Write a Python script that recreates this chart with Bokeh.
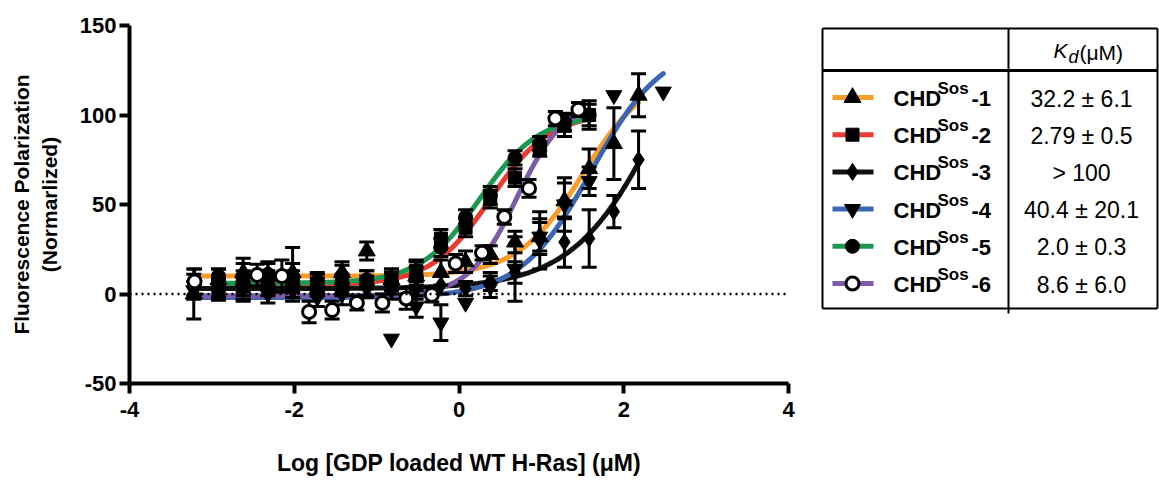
import numpy as np
from bokeh.plotting import figure
from bokeh.layouts import row
from bokeh.models import Range1d, Span, FixedTicker, CustomJSTickFormatter
from bokeh.embed import file_html
from bokeh.resources import INLINE
from bokeh.core.properties import value

# ---------------- data ----------------
series_names = ["CHD", "CHD", "CHD", "CHD", "CHD", "CHD"]
series_nums = ["-1", "-2", "-3", "-4", "-5", "-6"]
kd_labels = ["32.2 \u00b1 6.1", "2.79 \u00b1 0.5", "> 100", "40.4 \u00b1 20.1", "2.0 \u00b1 0.3", "8.6 \u00b1 6.0"]
colors = ["#F89C2A", "#EC3A30", "#111111", "#3C66B3", "#1C9A52", "#7D5BA6"]
markers = ["triangle", "square", "diamond", "inverted_triangle", "circle", "circle"]

x1 = [-3.22, -2.92, -2.62, -2.32, -2.02, -1.72, -1.42, -1.12, -0.82, -0.52, -0.22, 0.08, 0.38, 0.68, 0.98, 1.28, 1.58, 1.88, 2.18]
y1 = [0, 8, 12, 10, 12, 6, 12, 24, 8, 10, 12, 18, 22, 29, 32, 52, 70, 84, 111]
e1 = [14, 6, 5, 8, 14, 5, 6, 5, 6, 8, 7, 6, 5, 6, 10, 10, 11, 20, 12]

x2 = [-2.92, -2.62, -2.32, -2.02, -1.72, -1.42, -1.12, -0.82, -0.52, -0.22, 0.08, 0.38, 0.68, 0.98, 1.28, 1.58]
y2 = [0.5, 8, 8, 7, 4, 5, 6, 8, 13, 31, 37, 53, 65, 81, 94, 100]
e2 = [4, 12, 5, 6, 5, 6, 7, 6, 6, 5, 5, 5, 5, 4, 6, 8]

x3 = [-3.22, -2.92, -2.62, -2.32, -2.02, -1.72, -1.42, -1.12, -0.82, -0.52, -0.22, 0.08, 0.38, 0.68, 0.98, 1.28, 1.58, 1.88, 2.18]
y3 = [5, 3, 6, 4, 2, 3, 5, 4, 2, 3, 5, 3, 7, 12, 30, 29, 31, 46, 75]
e3 = [6, 5, 7, 5, 6, 4, 5, 6, 5, 6, 5, 4, 5, 6, 16, 14, 16, 9, 16]

x4 = [-3.22, -2.92, -2.62, -2.32, -2.02, -1.72, -1.42, -1.12, -0.82, -0.52, -0.22, 0.08, 0.38, 0.68, 0.98, 1.28, 1.58, 1.88, 2.48]
y4 = [2, 1, 3, 0, 2, -2, 0, 3, -25, -7, -16, -5, 4, 14, 32, 50, 63, 111, 113]
e4 = [5, 4, 6, 5, 4, 5, 6, 5, 0, 6, 10, 0, 6, 18, 8, 15, 8, 0, 0]

x5 = [-2.92, -2.62, -2.32, -2.02, -1.72, -1.42, -1.12, -0.82, -0.52, -0.22, 0.08, 0.38, 0.68, 0.98, 1.28, 1.58]
y5 = [10, 6, 11, 9, 7, 10, 8, 6, 10, 26, 43, 55, 76, 84, 96, 100]
e5 = [4, 5, 6, 8, 5, 6, 5, 6, 5, 5, 4, 5, 4, 4, 5, 6]

x6 = [-3.21, -2.45, -2.15, -1.82, -1.54, -1.24, -0.93, -0.64, -0.33, -0.04, 0.28, 0.55, 0.85, 1.17, 1.45]
y6 = [7, 10.6, 10, -10, -9, -5, -5, -2.5, -0.5, 17, 23, 43, 59, 98, 103]
e6 = [7, 6, 9, 6, 5, 4, 5, 6, 4, 5, 4, 4, 5, 4, 4]

# fitted dose-response parameters (bottom, top, logEC50, hill)
fit_bottom = [10, 5, 3, -2, 6, -1]
fit_top = [125, 101, 200, 140, 100, 108]
fit_logec = [1.51, 0.38, 2.5, 1.61, 0.25, 0.70]
fit_hill = [1.09, 1.2, 0.8, 1.0, 1.2, 1.5]

xs = [x1, x2, x3, x4, x5, x6]
ys = [y1, y2, y3, y4, y5, y6]
es = [e1, e2, e3, e4, e5, e6]

x_ticks = [-4, -2, 0, 2, 4]
y_ticks = [-50, 0, 50, 100, 150]

FONT = "Liberation Sans"

# ---------------- main plot ----------------
p = figure(frame_width=659, frame_height=358, x_range=Range1d(-4, 4), y_range=Range1d(-50, 150),
           output_backend="svg", toolbar_location=None,
           min_border_left=129, min_border_right=30, min_border_top=25, min_border_bottom=95)
p.outline_line_color = None
p.grid.visible = False
p.background_fill_color = "white"

p.add_layout(Span(location=0, dimension="width", line_color="black", line_width=2.5,
                  line_dash="2 4"))

# fitted curves
for i in range(6):
    cx = np.linspace(min(xs[i]), max(xs[i]), 200)
    cy = fit_bottom[i] + (fit_top[i] - fit_bottom[i]) / (1 + 10 ** ((fit_logec[i] - cx) * fit_hill[i]))
    p.line(cx, cy, line_color=colors[i], line_width=5, line_cap="round")

# error bars
for i in range(6):
    x = np.array(xs[i]); y = np.array(ys[i]); e = np.array(es[i])
    m = e > 0
    p.segment(x0=x[m], y0=(y - e)[m], x1=x[m], y1=(y + e)[m], line_color="black", line_width=3)
    p.scatter(x[m], (y + e)[m], marker="dash", size=15, line_color="black", line_width=3)
    p.scatter(x[m], (y - e)[m], marker="dash", size=15, line_color="black", line_width=3)

# markers
sizes = [17, 13, 17, 16, 14, 13]
for i in range(6):
    if i == 5:
        p.scatter(xs[i], ys[i], marker="circle", size=sizes[i], fill_color="white",
                  line_color="black", line_width=3)
    else:
        p.scatter(xs[i], ys[i], marker=markers[i], size=sizes[i], fill_color="black",
                  line_color="black", line_width=1)

fmt = CustomJSTickFormatter(code="return String(tick);")
for ax in (p.xaxis[0], p.yaxis[0]):
    ax.axis_line_width = 4
    ax.axis_line_color = "black"
    ax.major_tick_line_width = 4
    ax.major_tick_line_color = "black"
    ax.major_tick_out = 10
    ax.major_tick_in = 0
    ax.minor_tick_line_color = None
    ax.major_label_text_font = FONT
    ax.major_label_text_font_style = "bold"
    ax.major_label_text_font_size = "22px"
    ax.major_label_text_color = "black"
    ax.axis_label_text_font = FONT
    ax.axis_label_text_font_style = "bold"
    ax.axis_label_text_color = "black"
    ax.formatter = fmt

p.xaxis.ticker = FixedTicker(ticks=x_ticks)
p.yaxis.ticker = FixedTicker(ticks=y_ticks)
p.xaxis.major_label_standoff = 8
p.yaxis.major_label_standoff = 3
p.xaxis.axis_label = "Log [GDP loaded WT H-Ras] (\u03bcM)"
p.yaxis.axis_label = "Fluorescence Polarization\n(Normarlized)"
p.xaxis.axis_label_text_font_size = "23px"
p.yaxis.axis_label_text_font_size = "21px"
p.xaxis.axis_label_standoff = 30
p.yaxis.axis_label_standoff = 16

# ---------------- legend table ----------------
t = figure(frame_width=341, frame_height=478, x_range=Range1d(0, 341), y_range=Range1d(478, 0),
           output_backend="svg", toolbar_location=None, min_border=0,
           x_axis_type=None, y_axis_type=None)
t.outline_line_color = None
t.grid.visible = False

# borders
t.segment(x0=[4, 4, 4, 339], y0=[3, 283, 3, 3], x1=[339, 339, 4, 339], y1=[3, 283, 283, 283],
          line_color="black", line_width=2)
t.segment(x0=[4], y0=[45], x1=[339], y1=[45], line_color="black", line_width=3)
t.segment(x0=[190], y0=[3], x1=[190], y1=[288], line_color="black", line_width=2)

# header
t.text(x=[235], y=[25], text=["K"], text_font=value(FONT), text_font_style="italic",
       text_font_size="21px", text_baseline="middle", text_color="black")
t.text(x=[250], y=[31], text=["d"], text_font=value(FONT), text_font_style="italic",
       text_font_size="18px", text_baseline="middle", text_color="black")
t.text(x=[261], y=[27], text=["(\u03bcM)"], text_font=value(FONT),
       text_font_size="21px", text_baseline="middle", text_color="black")

for i in range(6):
    yr = 72 + i * 37.2
    t.segment(x0=[14], y0=[yr], x1=[55], y1=[yr], line_color=colors[i], line_width=5)
    if i == 5:
        t.scatter([34], [yr], marker="circle", size=13, fill_color="white", line_color="black", line_width=3)
    else:
        t.scatter([34], [yr], marker=markers[i], size=sizes[i], fill_color="black", line_color="black")
    t.text(x=[75], y=[yr + 1], text=[series_names[i]], text_font=value(FONT), text_font_style="bold",
           text_font_size="22px", text_baseline="middle", text_color="black")
    t.text(x=[119], y=[yr - 9], text=["Sos"], text_font=value(FONT), text_font_style="bold",
           text_font_size="17px", text_baseline="middle", text_color="black")
    t.text(x=[153], y=[yr + 1], text=[series_nums[i]], text_font=value(FONT), text_font_style="bold",
           text_font_size="22px", text_baseline="middle", text_color="black")
    t.text(x=[263], y=[yr + 1], text=[kd_labels[i]], text_font=value(FONT),
           text_font_size="23px", text_baseline="middle", text_align="center", text_color="black")

layout = row(p, t)
open("out.html", "w").write(file_html(layout, INLINE))
